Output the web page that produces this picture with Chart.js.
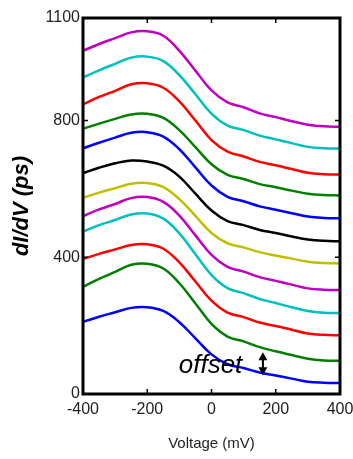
<!DOCTYPE html>
<html>
<head>
<meta charset="utf-8">
<script src="https://cdn.jsdelivr.net/npm/chart.js@4.4.0/dist/chart.umd.min.js"></script>
<style>
html, body { margin: 0; padding: 0; background: #fff; }
</style>
</head>
<body>
<canvas id="didv-chart" width="353" height="459"></canvas>
<script>
let didvCanvas = document.getElementById("didv-chart");

// Axis values
const voltage = [-400, -350, -300, -250, -200, -150, -100, -50, 0, 50, 100, 150, 200, 250, 300, 350, 400];
const xTicks = [-400, -200, 0, 200, 400];
const yTicks = [0, 400, 800, 1100];

// dI/dV curves, bottom to top (already offset)
const blue1    = [211, 226, 239, 252, 254, 243, 210, 163, 116, 87, 76, 63, 54, 45, 36, 33, 32];
const green1   = [313, 337, 357, 378, 381, 367, 324, 265, 205, 168, 154, 137, 125, 114, 103, 98, 97];
const red1     = [395, 410, 423, 436, 438, 425, 385, 329, 273, 238, 225, 209, 199, 188, 177, 173, 172];
const cyan1    = [475, 494, 509, 525, 528, 513, 470, 409, 348, 310, 295, 278, 266, 254, 243, 238, 237];
const magenta1 = [520, 540, 556, 573, 576, 562, 522, 464, 407, 372, 358, 342, 331, 320, 309, 305, 304];
const yellow1  = [574, 589, 602, 615, 617, 605, 570, 521, 471, 441, 429, 415, 405, 396, 387, 383, 382];
const black1   = [646, 662, 675, 683, 680, 668, 636, 586, 537, 506, 494, 480, 471, 461, 452, 448, 447];
const blue2    = [719, 735, 750, 764, 766, 753, 716, 663, 610, 577, 564, 549, 539, 529, 519, 515, 514];
const green2   = [776, 791, 805, 818, 820, 808, 772, 722, 672, 641, 629, 614, 605, 595, 586, 582, 581];
const red2     = [847, 869, 887, 906, 909, 896, 856, 800, 743, 709, 695, 679, 669, 658, 647, 643, 642];
const cyan2    = [926, 947, 966, 984, 987, 974, 933, 877, 820, 785, 772, 756, 745, 734, 723, 719, 718];
const magenta2 = [1004, 1024, 1041, 1058, 1061, 1048, 1004, 946, 888, 853, 839, 821, 810, 798, 788, 783, 782];

const curves = [blue1, green1, red1, cyan1, magenta1, yellow1, black1, blue2, green2, red2, cyan2, magenta2];
const colors = ["#0000ff", "#007f00", "#ff0000", "#00bfbf", "#bf00bf", "#bfbf00", "#000000",
                "#0000ff", "#007f00", "#ff0000", "#00bfbf", "#bf00bf"];

// "offset" note: arrow at 160 mV from 55 to 122, label ending at 96 mV
const offsetArrow = [160, 55, 122];
const offsetLabel = [96, 61];

let didvData = {
    datasets: curves.map((c, i) => ({
        data: c.map((v, j) => ({ x: voltage[j], y: v })),
        borderColor: colors[i],
        borderWidth: 2.5,
        pointRadius: 0,
        tension: 0.4,
        fill: false
    }))
};

const tickFont = { family: "'Liberation Sans', Arial, sans-serif", size: 16 };

// frame, inner ticks and the offset note
const framePlugin = {
    id: 'frame',
    afterDraw(chart) {
        const ctx = chart.ctx;
        const a = chart.chartArea;
        const xs = chart.scales.x, ys = chart.scales.y;
        ctx.save();
        ctx.strokeStyle = '#000';
        ctx.lineWidth = 1.5;
        ctx.beginPath();
        xTicks.slice(1, -1).forEach(v => {
            let px = xs.getPixelForValue(v);
            ctx.moveTo(px, a.bottom); ctx.lineTo(px, a.bottom - 5);
            ctx.moveTo(px, a.top); ctx.lineTo(px, a.top + 5);
        });
        yTicks.slice(1, -1).forEach(v => {
            let py = ys.getPixelForValue(v);
            ctx.moveTo(a.left, py); ctx.lineTo(a.left + 5, py);
            ctx.moveTo(a.right, py); ctx.lineTo(a.right - 5, py);
        });
        ctx.stroke();
        ctx.lineWidth = 3;
        ctx.strokeRect(a.left, a.top, a.right - a.left, a.bottom - a.top);

        // offset arrow
        let ax = xs.getPixelForValue(offsetArrow[0]);
        let y1 = ys.getPixelForValue(offsetArrow[1]);
        let y2 = ys.getPixelForValue(offsetArrow[2]);
        ctx.lineWidth = 2;
        ctx.beginPath();
        ctx.moveTo(ax, y1 - 6); ctx.lineTo(ax, y2 + 6);
        ctx.stroke();
        ctx.fillStyle = '#000';
        ctx.beginPath();
        ctx.moveTo(ax, y2); ctx.lineTo(ax - 4.5, y2 + 8); ctx.lineTo(ax + 4.5, y2 + 8); ctx.closePath();
        ctx.moveTo(ax, y1); ctx.lineTo(ax - 4.5, y1 - 8); ctx.lineTo(ax + 4.5, y1 - 8); ctx.closePath();
        ctx.fill();

        ctx.font = "italic 26px 'Liberation Sans', Arial, sans-serif";
        ctx.textAlign = 'right';
        ctx.textBaseline = 'alphabetic';
        ctx.fillText('offset', xs.getPixelForValue(offsetLabel[0]), ys.getPixelForValue(offsetLabel[1]));
        ctx.restore();
    }
};

let didvOptions = {
    responsive: false,
    animation: { duration: 0 },
    layout: { padding: { top: 18, right: 13, left: 0, bottom: 0 } },
    scales: {
        x: {
            type: 'linear',
            min: -400,
            max: 400,
            afterBuildTicks: s => { s.ticks = xTicks.map(v => ({ value: v })); },
            afterFit: s => { s.height = 65; s.paddingLeft = 0; s.paddingRight = 0; },
            grid: { display: false, drawTicks: false },
            border: { display: false },
            ticks: { font: tickFont, color: '#222', padding: 6, maxRotation: 0, callback: v => String(v) },
            title: {
                display: true,
                text: 'Voltage (mV)',
                font: { family: "'Liberation Sans', Arial, sans-serif", size: 15 },
                color: '#222',
                padding: { top: 0, bottom: 6 }
            }
        },
        y: {
            min: 0,
            max: 1100,
            afterBuildTicks: s => { s.ticks = yTicks.map(v => ({ value: v })); },
            afterFit: s => { s.width = 83; s.paddingTop = 0; s.paddingBottom = 0; },
            grid: { display: false, drawTicks: false },
            border: { display: false },
            ticks: { font: tickFont, color: '#222', padding: 3, callback: v => String(v) },
            title: {
                display: true,
                text: 'dI/dV (ps)',
                font: { family: "'Liberation Sans', Arial, sans-serif", size: 22, weight: 'bold', style: 'italic' },
                color: '#000',
                padding: { top: 9, bottom: 0 }
            }
        }
    },
    plugins: {
        legend: { display: false },
        tooltip: { enabled: false }
    }
};

let didvChart = new Chart(didvCanvas, {
    type: 'line',
    data: didvData,
    options: didvOptions,
    plugins: [framePlugin]
});
</script>
</body>
</html>
